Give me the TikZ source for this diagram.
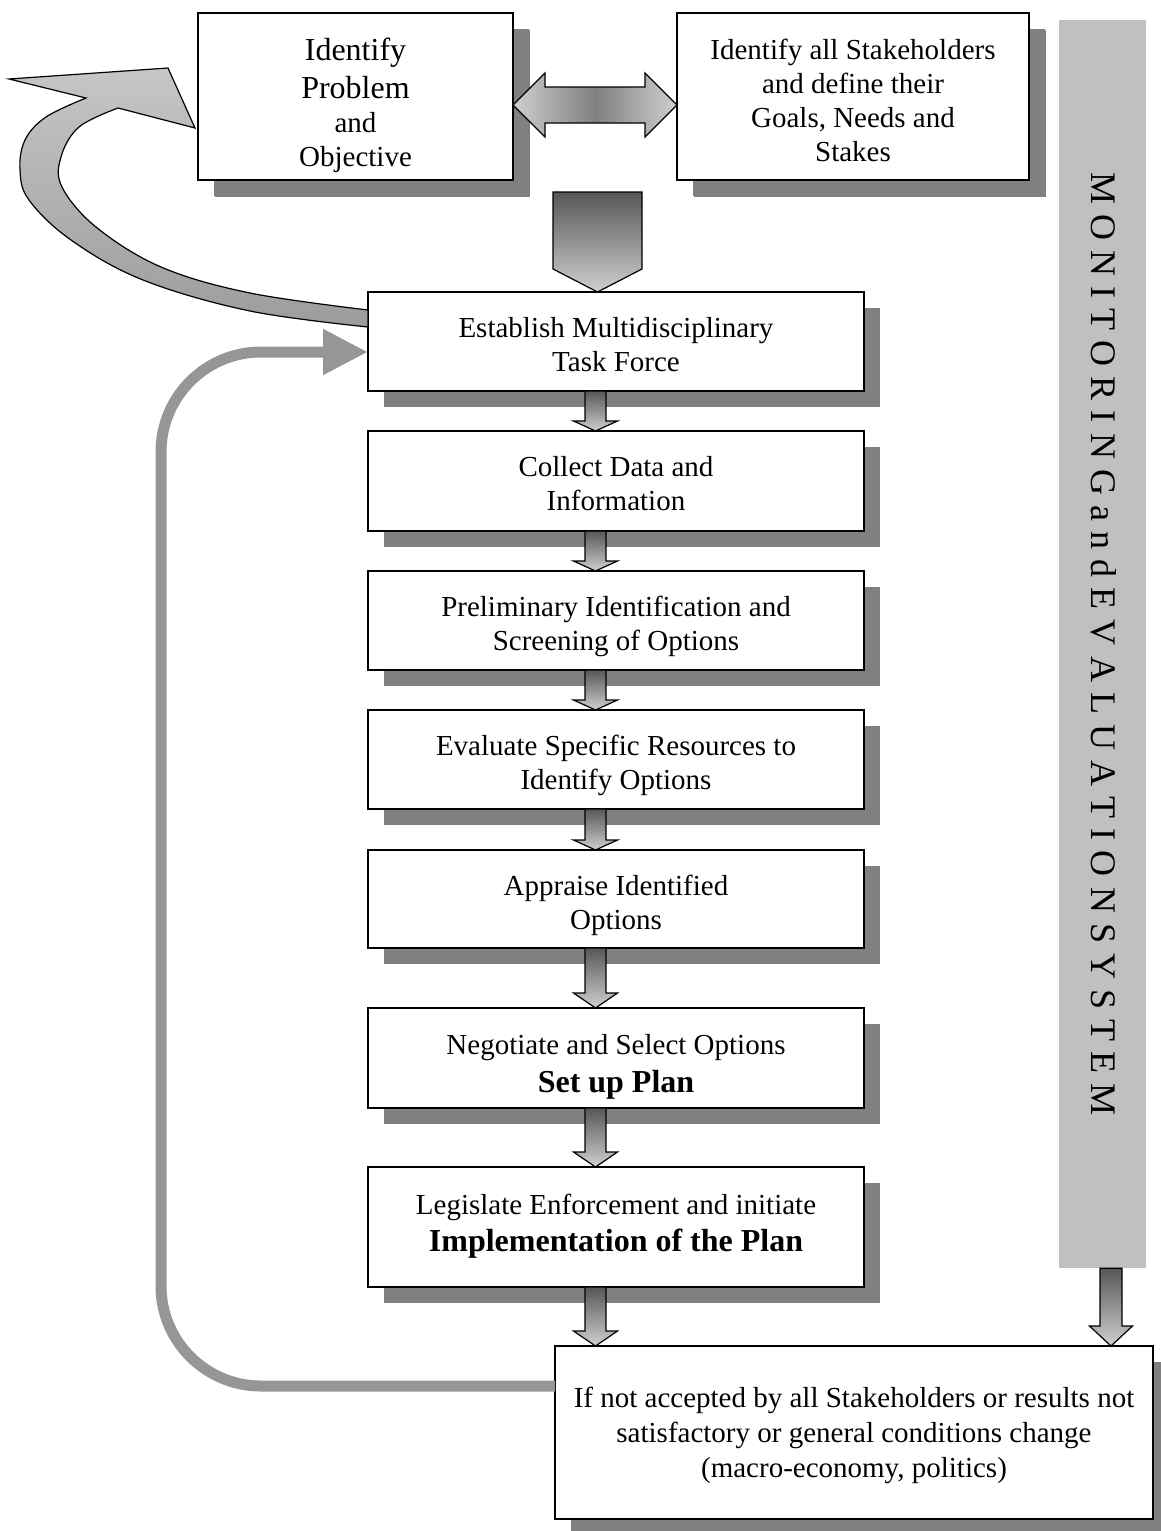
\documentclass[tikz,border=0pt]{standalone}
\usepackage{fontspec}
\setmainfont{Liberation Serif}
\usetikzlibrary{shadows,arrows.meta,calc}
\definecolor{shadowgray}{HTML}{808080}
\definecolor{bargray}{HTML}{C0C0C0}
\definecolor{loopgray}{HTML}{969696}
\definecolor{darkgrad}{HTML}{575757}
\definecolor{lightgrad}{HTML}{CFCFCF}
\definecolor{curvelight}{HTML}{C6C6C6}
\definecolor{curvedark}{HTML}{9C9C9C}
\tikzset{
  stepbox/.style={draw=black, line width=1.3pt, fill=white, inner sep=0pt, outer sep=0pt,
    font=\fontsize{29}{34}\selectfont,
    drop shadow={shadow xshift=16pt, shadow yshift=-16pt, opacity=1, fill=shadowgray}},
  topbox/.style={stepbox, drop shadow={shadow xshift=17pt, shadow yshift=-17pt, opacity=1, fill=shadowgray}},
  blockarrow/.style={draw=black, line width=1.2pt, top color=darkgrad, bottom color=lightgrad, line join=miter},
  loopline/.style={draw=loopgray, line width=11pt, rounded corners=100pt,
    -{Triangle[length=45pt,width=43pt]}},
}
% width, height, first baseline, text
\newcommand\boxtext[4]{\begin{minipage}[c][#2][t]{#1}\centering\rule{0pt}{#3}#4\end{minipage}}
\newcommand\bigline[1]{{\fontsize{32}{38}\selectfont #1}}
\newcommand\stepdown[3]{%
  \path[blockarrow] let \p1=($(#1.south -| axis)$), \p2=($(#2.north -| axis)$) in
    (\x1-10.5pt,\y1) -- (\x1+10.5pt,\y1) -- (\x1+10.5pt,\y2+#3) -- (\x1+22pt,\y2+#3)
    -- (\x1,\y2) -- (\x1-22pt,\y2+#3) -- (\x1-10.5pt,\y2+#3) -- cycle;}
\begin{document}
\begin{tikzpicture}[x=1pt,y=-1pt]
\useasboundingbox (0,0) rectangle (1160,1531);

% monitoring bar
\node[fill=bargray, minimum width=87pt, minimum height=1248pt, inner sep=0pt] (bar) at (1102.5,644) {};
\node[rotate=-90, inner sep=0pt, font=\fontsize{36}{40}\selectfont] (montext) at (1103.5,644)
  {\makebox[944pt][s]{M\hfill O\hfill N\hfill I\hfill T\hfill O\hfill R\hfill I\hfill N\hfill G\hfill a\hfill n\hfill d\hfill E\hfill V\hfill A\hfill L\hfill U\hfill A\hfill T\hfill I\hfill O\hfill N\hfill S\hfill Y\hfill S\hfill T\hfill E\hfill M}};

% top boxes
\node[topbox] (A) at (355.5,96.5)
  {\boxtext{315pt}{167pt}{47pt}{\bigline{Identify}\\[4pt]\bigline{Problem}\\[0.5pt] and\\ Objective}};
\node[topbox] (B) at (853,96.5)
  {\boxtext{352pt}{167pt}{46pt}{Identify all Stakeholders\\ and define their\\ Goals, Needs and\\ Stakes}};

% main column
\node[stepbox] (b1) at (616,341.5)
  {\boxtext{496pt}{99pt}{45pt}{Establish Multidisciplinary\\ Task Force}};
\node[stepbox] (b2) at (616,481)
  {\boxtext{496pt}{100pt}{45pt}{Collect Data and\\ Information}};
\node[stepbox] (b3) at (616,620.5)
  {\boxtext{496pt}{99pt}{45pt}{Preliminary Identification and\\ Screening of Options}};
\node[stepbox] (b4) at (616,759.5)
  {\boxtext{496pt}{99pt}{45pt}{Evaluate Specific Resources to\\ Identify Options}};
\node[stepbox] (b5) at (616,899)
  {\boxtext{496pt}{98pt}{45pt}{Appraise Identified\\ Options}};
\node[stepbox] (b6) at (616,1058)
  {\boxtext{496pt}{100pt}{46pt}{Negotiate and Select Options\\[4.5pt] \bigline{\bfseries Set up Plan}}};
\node[stepbox] (b7) at (616,1227)
  {\boxtext{496pt}{120pt}{47pt}{Legislate Enforcement and initiate\\[3.5pt] \bigline{\bfseries Implementation of the Plan}}};
\node[stepbox] (bot) at (854,1432.5)
  {\boxtext{598pt}{173pt}{61pt}{If not accepted by all Stakeholders or results not\\[1pt] satisfactory or general conditions change\\[1pt] (macro-economy, politics)}};

% axes
\coordinate (axis) at (595.5,0);
\coordinate (axisR) at (1111,0);
\coordinate (bigtop) at (597.5,192);
\coordinate (loopx) at (161,0);
\coordinate (loopstart) at ($(bot.north west)+(0,40)$);
\coordinate (loopend) at ($(b1.west)+(0,10.5)$);

% small step arrows
\stepdown{b1}{b2}{10pt}
\stepdown{b2}{b3}{10pt}
\stepdown{b3}{b4}{10pt}
\stepdown{b4}{b5}{10pt}
\stepdown{b5}{b6}{15pt}
\stepdown{b6}{b7}{15pt}
\stepdown{b7}{bot}{15pt}

% arrow from bar to bottom box
\path[blockarrow] let \p1=($(bar.south -| axisR)$), \p2=($(bot.north -| axisR)$) in
  (\x1-11pt,\y1) -- (\x1+11pt,\y1) -- (\x1+11pt,\y2+20pt) -- (\x1+21.5pt,\y2+20pt)
  -- (\x1,\y2) -- (\x1-21.5pt,\y2+20pt) -- (\x1-11pt,\y2+20pt) -- cycle;

% big down arrow
\path[blockarrow] let \p1=(bigtop), \p2=($(b1.north -| bigtop)$) in
  (\x1-44.5pt,\y1) -- (\x1+44.5pt,\y1) -- (\x1+44.5pt,\y2+23pt) -- (\x1,\y2)
  -- (\x1-44.5pt,\y2+23pt) -- cycle;

% double arrow between top boxes
\path[draw=black, line width=1.2pt, line join=miter, left color=lightgrad, right color=lightgrad, middle color=shadowgray]
  let \p1=($(A.east)+(0,8.5)$), \p2=($(B.west)+(0,8.5)$) in
  (\x1,\y1) -- (\x1+32pt,\y1+32pt) -- (\x1+32pt,\y1+18pt) -- (\x2-32pt,\y1+18pt)
  -- (\x2-32pt,\y1+32pt) -- (\x2,\y1) -- (\x2-32pt,\y1-32pt) -- (\x2-32pt,\y1-18pt)
  -- (\x1+32pt,\y1-18pt) -- (\x1+32pt,\y1-32pt) -- cycle;

% curved feedback arrow
\path[draw=black, line width=1.2pt, line join=miter, top color=curvelight, bottom color=curvedark]
  plot[smooth, tension=0.6] coordinates {(368,327) (250,311) (143,280) (71,240) (29,200) (20,170) (25,140) (46,117) (86,98)}
  -- (9,79) -- (168,68) -- (195,128) -- (118,108)
  -- plot[smooth, tension=0.6] coordinates {(118,108) (79,127) (61,157) (62,187) (96,227) (161,267) (250,293) (368,310)}
  -- cycle;

% loop back connector
\draw[loopline] (loopstart) -- (loopstart -| loopx) -- (loopend -| loopx) -- (loopend);
\end{tikzpicture}
\end{document}
